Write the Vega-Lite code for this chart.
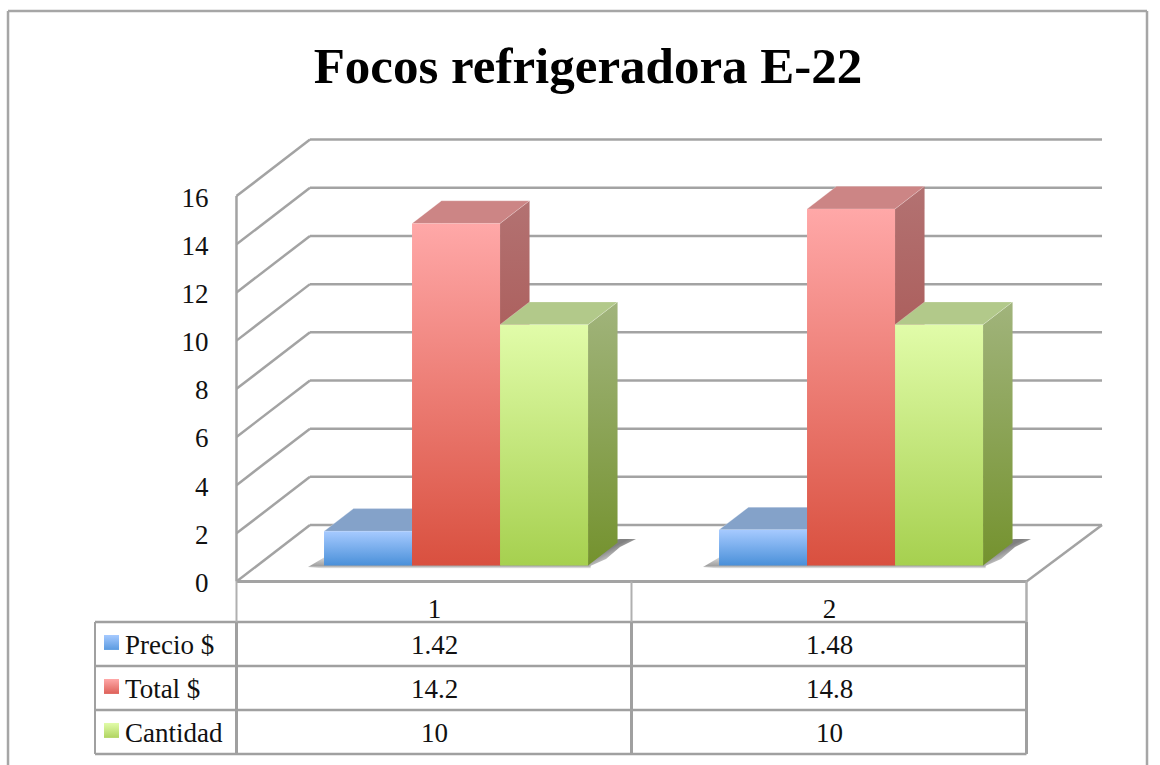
{"$schema":"https://vega.github.io/schema/vega-lite/v6.json","width":1160,"height":765,"padding":0,"autosize":{"type":"none"},"background":"white","config":{"view":{"stroke":null},"axis":{"grid":false}},
"title":{"text":"Focos refrigeradora E-22","font":"Liberation Serif","fontSize":51,"fontWeight":"bold","color":"#000000","anchor":"middle","offset":-134,"dx":8,"baseline":"alphabetic"},
"datasets":{"barras":[{"categoria":1,"serie":"Precio $","valor":1.42},{"categoria":1,"serie":"Total $","valor":14.2},{"categoria":1,"serie":"Cantidad","valor":10},{"categoria":2,"serie":"Precio $","valor":1.48},{"categoria":2,"serie":"Total $","valor":14.8},{"categoria":2,"serie":"Cantidad","valor":10}],
"niveles":[{"nivel":0},{"nivel":2},{"nivel":4},{"nivel":6},{"nivel":8},{"nivel":10},{"nivel":12},{"nivel":14},{"nivel":16}],
"series":[{"serie":"Precio $"},{"serie":"Total $"},{"serie":"Cantidad"}],
"categorias":[{"categoria":1},{"categoria":2}],
"filas":[{"fila":0},{"fila":1},{"fila":2},{"fila":3}]},
"layer":[
{"data":{"name":"niveles"},"mark":{"type":"rule","stroke":"#a3a3a3","strokeWidth":2.5},"transform":[{"calculate":"datum.nivel+2.345","as":"atras"}],"encoding":{"x":{"datum":0.4987,"type":"quantitative","scale":{"domain":[-0.1,2.8367],"nice":false,"zero":false},"axis":null},"x2":{"datum":0.6848},"y":{"field":"nivel","type":"quantitative","scale":{"domain":[-7.617,24.14],"nice":false,"zero":false},"axis":{"values":[0,2,4,6,8,10,12,14,16],"title":null,"domain":false,"ticks":false,"grid":false,"offset":-208,"labelPadding":0,"labelFont":"Liberation Serif","labelFontSize":27,"labelColor":"#111111","labelOffset":2,"labelOverlap":false}},"y2":{"field":"atras"}}},
{"data":{"name":"niveles"},"mark":{"type":"rule","stroke":"#a3a3a3","strokeWidth":2.5},"transform":[{"calculate":"datum.nivel+2.345","as":"atras"}],"encoding":{"x":{"datum":0.6848,"type":"quantitative"},"x2":{"datum":2.6899},"y":{"field":"atras","type":"quantitative"}}},
{"data":{"name":"niveles"},"mark":{"type":"rule","stroke":"#a3a3a3","strokeWidth":2.5},"transform":[{"filter":"datum.nivel==0"}],"encoding":{"x":{"datum":2.4987,"type":"quantitative"},"x2":{"datum":2.6899},"y":{"datum":0,"type":"quantitative"},"y2":{"datum":2.345}}},
{"data":{"name":"niveles"},"mark":{"type":"rule","stroke":"#a3a3a3","strokeWidth":3},"transform":[{"filter":"datum.nivel==0"}],"encoding":{"x":{"datum":0.4987,"type":"quantitative"},"x2":{"datum":2.4987},"y":{"datum":0,"type":"quantitative"}}},
{"data":{"name":"niveles"},"mark":{"type":"rule","stroke":"#a3a3a3","strokeWidth":2.5},"transform":[{"filter":"datum.nivel==0"}],"encoding":{"x":{"datum":0.4987,"type":"quantitative"},"y":{"datum":0,"type":"quantitative"},"y2":{"datum":16}}},

{"data":{"name":"categorias"},"mark":{"type":"area","color":{"gradient":"linear","x1":0,"y1":0,"x2":0,"y2":1,"stops":[{"offset":0,"color":"#d8d8d8"},{"offset":0.75,"color":"#a0a0a0"},{"offset":1,"color":"#f4f4f4"}]}},"transform":[{"calculate":"[0,1,2]","as":"t"},{"flatten":["t"]},{"calculate":"datum.categoria-0.2797+[-0.0405,0,0.675][datum.t]","as":"xs"},{"calculate":"[0.6,1.0,1.0][datum.t]","as":"ya"},{"calculate":"[0.6,0.54,0.54][datum.t]","as":"yb"}],"encoding":{"x":{"field":"xs","type":"quantitative"},"y":{"field":"ya","type":"quantitative"},"y2":{"field":"yb"},"detail":{"field":"categoria"}}},
{"data":{"name":"categorias"},"mark":{"type":"area","color":{"gradient":"linear","x1":0.3,"y1":0.2,"x2":0.8,"y2":0.8,"stops":[{"offset":0.25,"color":"#808080"},{"offset":0.6,"color":"#c4c4c4"},{"offset":1,"color":"#ffffff"}]}},"transform":[{"calculate":"[0,1,2,3]","as":"t"},{"flatten":["t"]},{"calculate":"datum.categoria-0.2797+0.6684+[0,0.0456,0.081,0.1215][datum.t]","as":"xs"},{"calculate":"[0.6,1.7,1.76,1.76][datum.t]","as":"ya"},{"calculate":"[0.6,0.934,1.43,1.76][datum.t]","as":"yb"}],"encoding":{"x":{"field":"xs","type":"quantitative"},"y":{"field":"ya","type":"quantitative"},"y2":{"field":"yb"},"detail":{"field":"categoria"}}},

{"data":{"name":"barras"},"mark":{"type":"area","color":{"gradient":"linear","x1":0,"y1":0,"x2":0,"y2":1,"stops":[{"offset":0,"color":"#7590b3"},{"offset":1,"color":"#3a6fa8"}]}},"transform":[{"filter":"datum.serie=='Precio $'"},{"calculate":"datum.categoria-0.2797","as":"x0"},{"calculate":"[0,1]","as":"t"},{"flatten":["t"]},{"calculate":"datum.x0+0.2228+datum.t*0.0747","as":"xs"},{"calculate":"0.664+datum.valor+datum.t*0.942","as":"ya"},{"calculate":"0.664+datum.t*0.942","as":"yb"}],"encoding":{"x":{"field":"xs","type":"quantitative"},"y":{"field":"ya","type":"quantitative","stack":null},"y2":{"field":"yb"},"detail":{"field":"categoria"}}},
{"data":{"name":"barras"},"mark":{"type":"area","color":{"gradient":"linear","x1":0,"y1":0,"x2":0,"y2":1,"stops":[{"offset":0,"color":"#b37272"},{"offset":1,"color":"#a0403a"}]}},"transform":[{"filter":"datum.serie=='Total $'"},{"calculate":"datum.categoria-0.2797+0.2228","as":"x0"},{"calculate":"[0,1]","as":"t"},{"flatten":["t"]},{"calculate":"datum.x0+0.2228+datum.t*0.0747","as":"xs"},{"calculate":"0.664+datum.valor+datum.t*0.942","as":"ya"},{"calculate":"0.664+datum.t*0.942","as":"yb"}],"encoding":{"x":{"field":"xs","type":"quantitative"},"y":{"field":"ya","type":"quantitative","stack":null},"y2":{"field":"yb"},"detail":{"field":"categoria"}}},
{"data":{"name":"barras"},"mark":{"type":"area","color":{"gradient":"linear","x1":0,"y1":0,"x2":0,"y2":1,"stops":[{"offset":0,"color":"#a1b47c"},{"offset":1,"color":"#74922e"}]}},"transform":[{"filter":"datum.serie=='Cantidad'"},{"calculate":"datum.categoria-0.2797+0.4456","as":"x0"},{"calculate":"[0,1]","as":"t"},{"flatten":["t"]},{"calculate":"datum.x0+0.2228+datum.t*0.0747","as":"xs"},{"calculate":"0.664+datum.valor+datum.t*0.942","as":"ya"},{"calculate":"0.664+datum.t*0.942","as":"yb"}],"encoding":{"x":{"field":"xs","type":"quantitative"},"y":{"field":"ya","type":"quantitative","stack":null},"y2":{"field":"yb"},"detail":{"field":"categoria"}}},

{"data":{"name":"barras"},"mark":{"type":"area","stroke":"#ffffff","strokeOpacity":0.25,"strokeWidth":1},"transform":[{"calculate":"indexof(['Precio $','Total $','Cantidad'],datum.serie)","as":"i"},{"calculate":"datum.categoria-0.2797+datum.i*0.2228","as":"x0"},{"calculate":"[0,1,2,3]","as":"t"},{"flatten":["t"]},{"calculate":"datum.x0+[0,0.0747,0.2228,0.2975][datum.t]","as":"xs"},{"calculate":"0.664+datum.valor+[0,0.942,0.942,0.942][datum.t]","as":"ya"},{"calculate":"0.664+datum.valor+[0,0,0,0.942][datum.t]","as":"yb"}],"encoding":{"x":{"field":"xs","type":"quantitative"},"y":{"field":"ya","type":"quantitative","stack":null},"y2":{"field":"yb"},"detail":{"field":"categoria"},"fill":{"field":"serie","type":"nominal","legend":null,"scale":{"domain":["Precio $","Total $","Cantidad"],"range":["#84a2c9","#cc8585","#b2c98a"]}}}},

{"data":{"name":"barras"},"mark":{"type":"rect","color":{"gradient":"linear","x1":0,"y1":0,"x2":0,"y2":1,"stops":[{"offset":0,"color":"#a6caff"},{"offset":1,"color":"#4a90d9"}]}},"transform":[{"filter":"datum.serie=='Precio $'"},{"calculate":"datum.categoria-0.2797","as":"x0"},{"calculate":"datum.x0+0.2228","as":"x1"},{"calculate":"0.664+datum.valor","as":"ya"}],"encoding":{"x":{"field":"x0","type":"quantitative"},"x2":{"field":"x1"},"y":{"field":"ya","type":"quantitative","stack":null},"y2":{"datum":0.664}}},
{"data":{"name":"barras"},"mark":{"type":"rect","color":{"gradient":"linear","x1":0,"y1":0,"x2":0,"y2":1,"stops":[{"offset":0,"color":"#ffa8a8"},{"offset":1,"color":"#d9503f"}]}},"transform":[{"filter":"datum.serie=='Total $'"},{"calculate":"datum.categoria-0.2797+0.2228","as":"x0"},{"calculate":"datum.x0+0.2228","as":"x1"},{"calculate":"0.664+datum.valor","as":"ya"}],"encoding":{"x":{"field":"x0","type":"quantitative"},"x2":{"field":"x1"},"y":{"field":"ya","type":"quantitative","stack":null},"y2":{"datum":0.664}}},
{"data":{"name":"barras"},"mark":{"type":"rect","color":{"gradient":"linear","x1":0,"y1":0,"x2":0,"y2":1,"stops":[{"offset":0,"color":"#e1fca9"},{"offset":1,"color":"#a6d04f"}]}},"transform":[{"filter":"datum.serie=='Cantidad'"},{"calculate":"datum.categoria-0.2797+0.4456","as":"x0"},{"calculate":"datum.x0+0.2228","as":"x1"},{"calculate":"0.664+datum.valor","as":"ya"}],"encoding":{"x":{"field":"x0","type":"quantitative"},"x2":{"field":"x1"},"y":{"field":"ya","type":"quantitative","stack":null},"y2":{"datum":0.664}}},

{"data":{"name":"filas"},"mark":{"type":"rule","stroke":"#a0a0a0","strokeWidth":2.5},"transform":[{"calculate":"-1.681-datum.fila*1.826","as":"yf"}],"encoding":{"x":{"datum":0.1405,"type":"quantitative"},"x2":{"datum":2.4987},"y":{"field":"yf","type":"quantitative"}}},
{"data":{"name":"filas"},"mark":{"type":"rule","stroke":"#a0a0a0","strokeWidth":2},"transform":[{"filter":"datum.fila==0"}],"encoding":{"x":{"datum":0.1405,"type":"quantitative"},"y":{"datum":-1.681,"type":"quantitative"},"y2":{"datum":-7.159}}},
{"data":{"name":"filas"},"mark":{"type":"rule","stroke":"#a0a0a0","strokeWidth":3},"transform":[{"filter":"datum.fila==0"}],"encoding":{"x":{"datum":0.4987,"type":"quantitative"},"y":{"datum":-1.681,"type":"quantitative"},"y2":{"datum":-7.159}}},
{"data":{"name":"categorias"},"mark":{"type":"rule","stroke":"#a0a0a0","strokeWidth":3},"encoding":{"x":{"field":"posx","type":"quantitative"},"y":{"datum":-1.681,"type":"quantitative"},"y2":{"datum":-7.159}},"transform":[{"calculate":"datum.categoria+0.4987","as":"posx"}]},
{"data":{"name":"categorias"},"mark":{"type":"rule","stroke":"#b0b0b0","strokeWidth":2},"encoding":{"x":{"field":"posx","type":"quantitative"},"y":{"datum":0,"type":"quantitative"},"y2":{"datum":-1.681}},"transform":[{"calculate":"datum.categoria-0.5013","as":"posx"}]},
{"data":{"name":"categorias"},"mark":{"type":"rule","stroke":"#b0b0b0","strokeWidth":2},"encoding":{"x":{"datum":2.4987,"type":"quantitative"},"y":{"datum":0,"type":"quantitative"},"y2":{"datum":-1.681}}},

{"data":{"name":"categorias"},"mark":{"type":"text","font":"Liberation Serif","fontSize":27,"color":"#111111","baseline":"middle"},"encoding":{"x":{"field":"categoria","type":"quantitative"},"y":{"datum":-1.2,"type":"quantitative"},"text":{"field":"categoria","type":"nominal"}}},
{"data":{"name":"barras"},"mark":{"type":"text","font":"Liberation Serif","fontSize":27,"color":"#111111","baseline":"middle"},"transform":[{"calculate":"-2.677-1.826*indexof(['Precio $','Total $','Cantidad'],datum.serie)","as":"yf"}],"encoding":{"x":{"field":"categoria","type":"quantitative"},"y":{"field":"yf","type":"quantitative"},"text":{"field":"valor","type":"nominal"}}},
{"data":{"name":"series"},"mark":{"type":"text","font":"Liberation Serif","fontSize":27,"color":"#111111","baseline":"middle","align":"left"},"transform":[{"calculate":"-2.677-1.826*indexof(['Precio $','Total $','Cantidad'],datum.serie)","as":"yf"}],"encoding":{"x":{"datum":0.2165,"type":"quantitative"},"y":{"field":"yf","type":"quantitative"},"text":{"field":"serie","type":"nominal"}}},
{"data":{"name":"series"},"mark":{"type":"rect","color":{"gradient":"linear","x1":0,"y1":0,"x2":0,"y2":1,"stops":[{"offset":0,"color":"#a6caff"},{"offset":1,"color":"#5a9ae0"}]}},"transform":[{"filter":"datum.serie=='Precio $'"},{"calculate":"-2.22","as":"ya"},{"calculate":"datum.ya-0.62","as":"yb"}],"encoding":{"x":{"datum":0.1633,"type":"quantitative"},"x2":{"datum":0.2013},"y":{"field":"ya","type":"quantitative","stack":null},"y2":{"field":"yb"}}},
{"data":{"name":"series"},"mark":{"type":"rect","color":{"gradient":"linear","x1":0,"y1":0,"x2":0,"y2":1,"stops":[{"offset":0,"color":"#ffa8a8"},{"offset":1,"color":"#dd6058"}]}},"transform":[{"filter":"datum.serie=='Total $'"},{"calculate":"-4.046","as":"ya"},{"calculate":"datum.ya-0.62","as":"yb"}],"encoding":{"x":{"datum":0.1633,"type":"quantitative"},"x2":{"datum":0.2013},"y":{"field":"ya","type":"quantitative","stack":null},"y2":{"field":"yb"}}},
{"data":{"name":"series"},"mark":{"type":"rect","color":{"gradient":"linear","x1":0,"y1":0,"x2":0,"y2":1,"stops":[{"offset":0,"color":"#e1fca9"},{"offset":1,"color":"#b0d460"}]}},"transform":[{"filter":"datum.serie=='Cantidad'"},{"calculate":"-5.872","as":"ya"},{"calculate":"datum.ya-0.62","as":"yb"}],"encoding":{"x":{"datum":0.1633,"type":"quantitative"},"x2":{"datum":0.2013},"y":{"field":"ya","type":"quantitative","stack":null},"y2":{"field":"yb"}}},

{"data":{"name":"filas"},"mark":{"type":"rule","stroke":"#a6a6a6","strokeWidth":2.5},"transform":[{"filter":"datum.fila==0"}],"encoding":{"x":{"datum":-0.0797,"type":"quantitative"},"y":{"datum":23.68,"type":"quantitative"},"y2":{"datum":-7.617}}},
{"data":{"name":"filas"},"mark":{"type":"rule","stroke":"#a6a6a6","strokeWidth":2.5},"transform":[{"filter":"datum.fila==0"}],"encoding":{"x":{"datum":2.8038,"type":"quantitative"},"y":{"datum":23.68,"type":"quantitative"},"y2":{"datum":-7.617}}},
{"data":{"name":"filas"},"mark":{"type":"rule","stroke":"#a6a6a6","strokeWidth":2.5},"transform":[{"filter":"datum.fila==0"}],"encoding":{"x":{"datum":-0.0797,"type":"quantitative"},"x2":{"datum":2.8038},"y":{"datum":23.68,"type":"quantitative"}}}
]}
